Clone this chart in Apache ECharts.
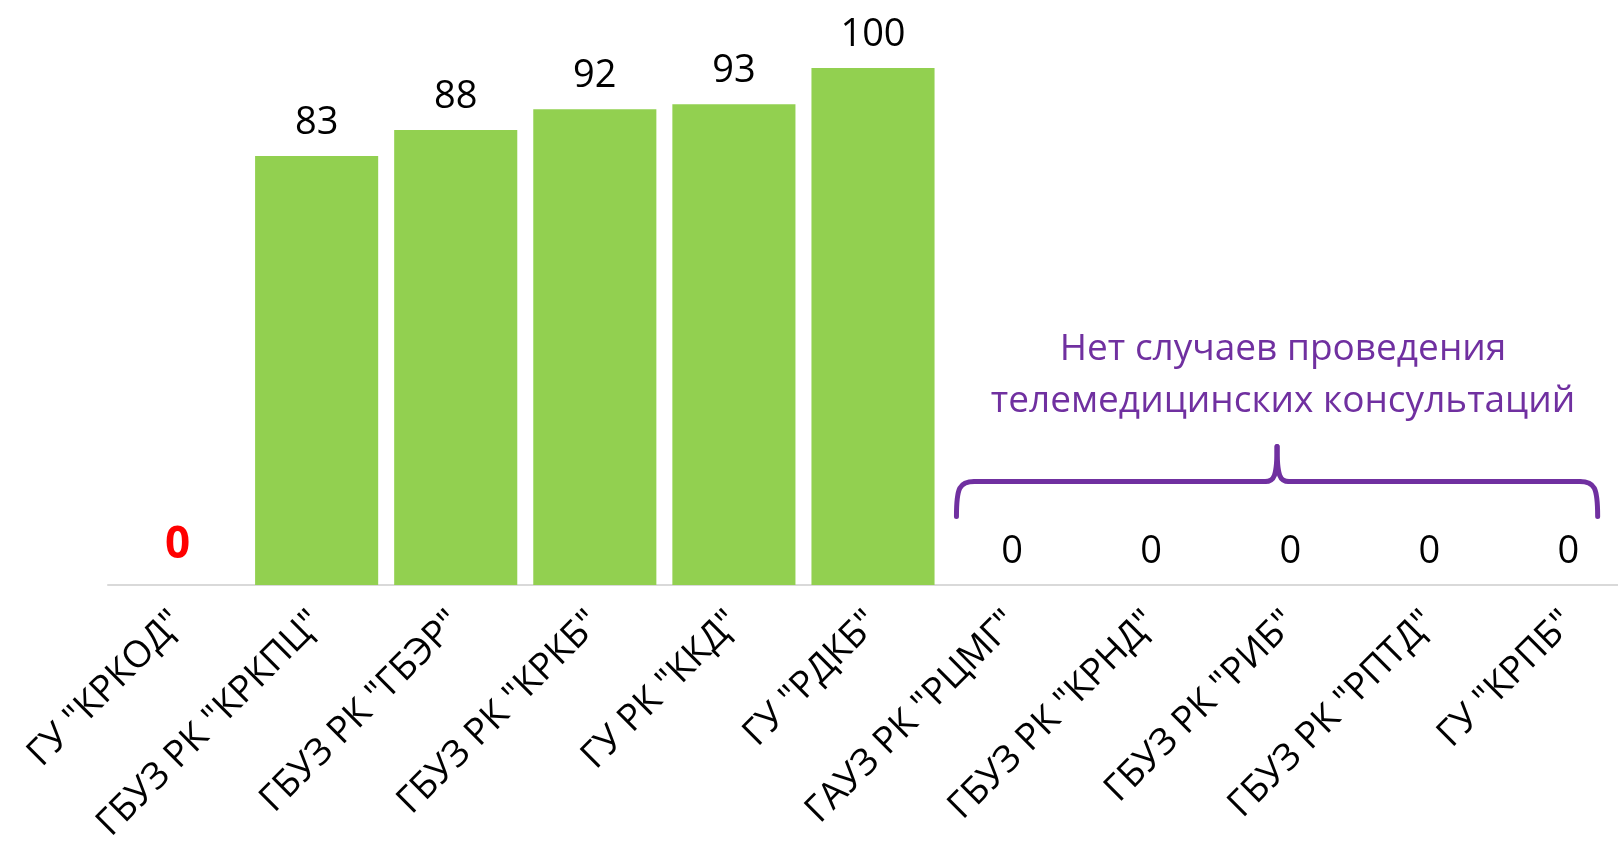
<!DOCTYPE html>
<html><head><meta charset="utf-8">
<script src="https://cdn.jsdelivr.net/npm/echarts@6/dist/echarts.min.js"></script>
<style>html,body{margin:0;padding:0;background:#fff;overflow:hidden;width:1618px;height:852px}#c{width:1640px;height:852px}</style>
</head><body><div id="c"></div>
<script>
const categories = ['ГУ "КРКОД"','ГБУЗ РК "КРКПЦ"','ГБУЗ РК "ГБЭР"','ГБУЗ РК "КРКБ"','ГУ РК "ККД"','ГУ "РДКБ"','ГАУЗ РК "РЦМГ"','ГБУЗ РК "КРНД"','ГБУЗ РК "РИБ"','ГБУЗ РК "РПТД"','ГУ "КРПБ"'];
const values = [0, 83, 88, 92, 93, 100, 0, 0, 0, 0, 0];
const noteLines = ['Нет случаев проведения', 'телемедицинских консультаций'];
const FONT = '"Open Sans", "Noto Sans", sans-serif';

const chart = echarts.init(document.getElementById('c'));
const data = values.map((v, i) => {
  const d = { value: v };
  if (i === 0) d.label = { color: '#FF0000', fontWeight: 'bold', fontSize: 44, distance: 18 };
  return d;
});
chart.setOption({
  animation: false,
  grid: { left: 108, right: 2, top: 68, bottom: 267, containLabel: false },
  xAxis: {
    type: 'category', data: categories,
    axisLine: { show: true, lineStyle: { color: '#D9D9D9', width: 2 } },
    axisTick: { show: false },
    axisLabel: { interval: 0, rotate: 45, fontSize: 37, fontFamily: FONT, color: '#000', margin: 32 }
  },
  yAxis: { type: 'value', min: 0, max: 100, show: false, splitLine: { show: false } },
  series: [{
    type: 'bar', data: data, barCategoryGap: '11.5%',
    itemStyle: { color: '#92D050' },
    label: { show: true, position: 'top', fontSize: 38, fontFamily: FONT, color: '#000', distance: 14 }
  }]
});

function drawNote() {
  const x6 = chart.convertToPixel({ xAxisIndex: 0 }, 6);
  const x10 = chart.convertToPixel({ xAxisIndex: 0 }, 10);
  const step = (x10 - x6) / 4;
  const L = x6 - step * 0.4, R = x10 + step * 0.21;
  const M = (L + R) / 2;
  const yH = chart.convertToPixel({ yAxisIndex: 0 }, 20);
  const yEnd = yH + 35, yTop = yH - 35;
  const r = 18;
  const st = { fill: null, stroke: '#7030A0', lineWidth: 5, lineCap: 'round' };
  const t1 = chart.convertToPixel({ yAxisIndex: 0 }, 40.5);
  chart.setOption({
    graphic: [
      { type: 'bezierCurve', shape: { x1: L, y1: yEnd, cpx1: L, cpy1: yH + 6, cpx2: L + 3, cpy2: yH, x2: L + r, y2: yH }, style: st },
      { type: 'line', shape: { x1: L + r, y1: yH, x2: M - 12, y2: yH }, style: st },
      { type: 'bezierCurve', shape: { x1: M - 12, y1: yH, cpx1: M - 3, cpy1: yH, cpx2: M, cpy2: yH - 5, x2: M, y2: yTop }, style: st },
      { type: 'bezierCurve', shape: { x1: M, y1: yTop, cpx1: M, cpy1: yH - 5, cpx2: M + 3, cpy2: yH, x2: M + 12, y2: yH }, style: st },
      { type: 'line', shape: { x1: M + 12, y1: yH, x2: R - r, y2: yH }, style: st },
      { type: 'bezierCurve', shape: { x1: R - r, y1: yH, cpx1: R - 3, cpy1: yH, cpx2: R, cpy2: yH + 6, x2: R, y2: yEnd }, style: st },
      { type: 'text', x: M + 6, y: t1, style: { text: noteLines.join('\n'), font: `37px ${FONT}`, fill: '#7030A0', align: 'center', verticalAlign: 'middle', lineHeight: 52 } }
    ]
  });
}
drawNote();
</script></body></html>
